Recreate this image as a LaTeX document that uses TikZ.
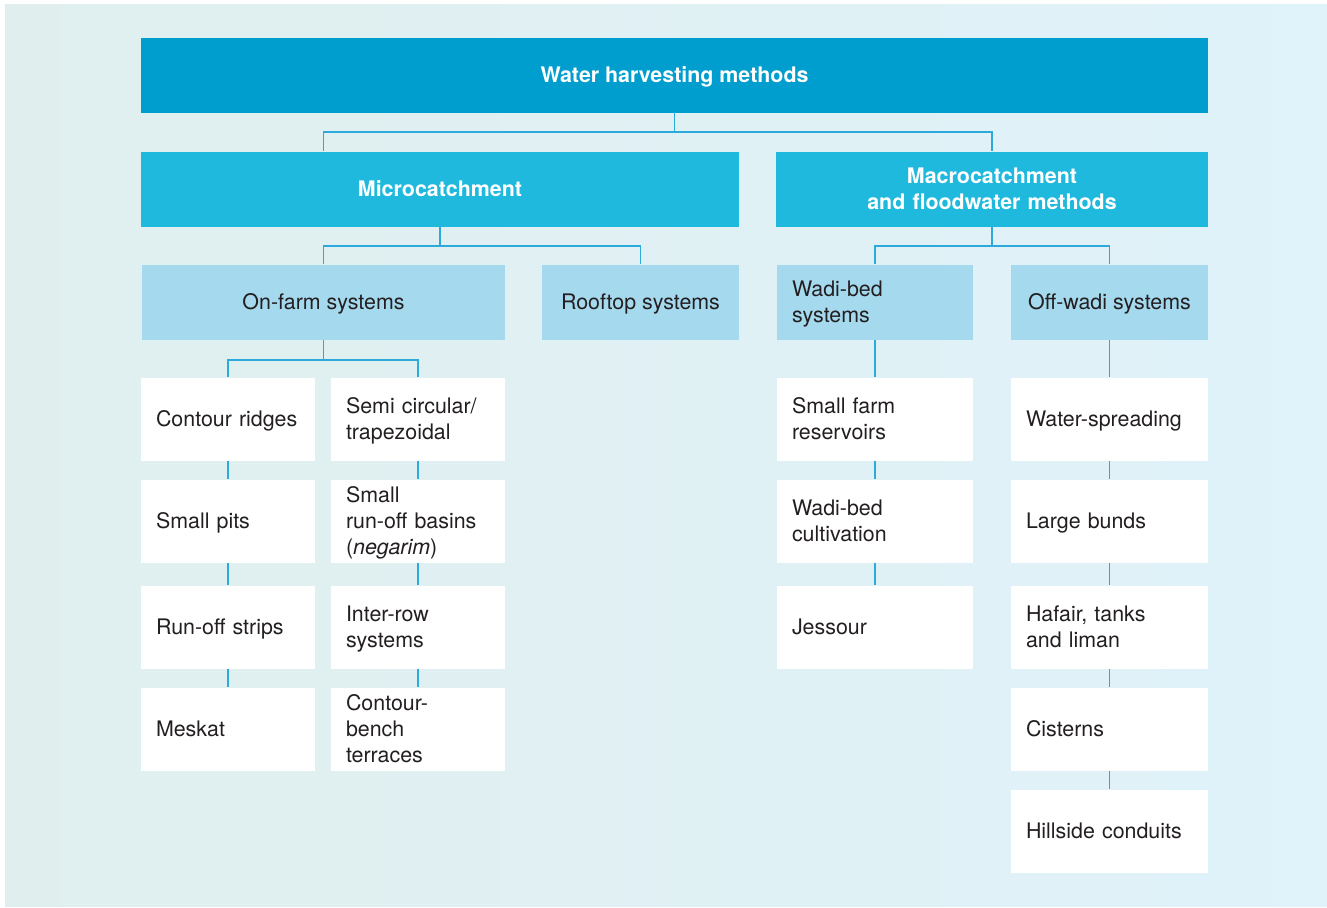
\documentclass[tikz,border=0pt]{standalone}
\usepackage{fontspec}
\setmainfont{TeX Gyre Heros}
\usepackage{tikz}
\definecolor{topblue}{RGB}{0,158,206}
\definecolor{midblue}{RGB}{31,185,222}
\definecolor{subblue}{RGB}{165,217,238}
\definecolor{linkblue}{RGB}{45,170,220}
\definecolor{bgleft}{RGB}{224,239,238}
\definecolor{bgright}{RGB}{224,242,250}
\definecolor{ink}{RGB}{35,31,32}

\begin{document}
\begin{tikzpicture}[x = 0.5pt, y = -0.5pt, font = \fontsize{10.7}{13}\selectfont,
  lines/.style = {text height = 7.7pt, text depth = #1},
  lines/.default = 0pt,
  head/.style = {fill = topblue, text = white, font = \fontsize{10.7}{13}\selectfont\bfseries, align = center, inner sep = 0pt, minimum height = 37.5pt, lines},
  group/.style = {fill = midblue, text = white, font = \fontsize{10.7}{13}\selectfont\bfseries, align = center, inner sep = 0pt, minimum height = 37.5pt, lines},
  sub/.style = {fill = subblue, text = ink, align = center, inner sep = 0pt, minimum height = 37.5pt, lines},
  leaf/.style = {fill = white, text = ink, align = left, inner xsep = 7.5pt, inner ysep = 0pt, minimum height = 41.5pt, text width = #1, lines},
  link/.style = {draw = linkblue, line width = 0.75pt}]
\useasboundingbox (0,0) rectangle (1327,907);
\fill[left color = bgleft, right color = bgright] (5,4) rectangle (1327,906);
\draw (674.5,75) node[head, minimum width = 533.5pt](w){Water harvesting methods}
    (440,189) node[group, minimum width = 299pt](m1){Microcatchment}
    (992,189) node[group, text width = 216pt, lines = 13pt](m2){Macrocatchment\\and floodwater methods}
    (323.5,302) node[sub, minimum width = 181.5pt](s1){On-farm systems}
    (640.5,302) node[sub, minimum width = 98.5pt](s2){Rooftop systems}
    (875,302) node[sub, align = left, inner xsep = 7.5pt, text width = 83pt, lines = 13pt](s3){Wadi-bed\\systems}
    (1109.5,302) node[sub, minimum width = 98.5pt](s4){Off-wadi systems};
\draw (228,419) node[leaf = 72pt](l1){Contour ridges}
    (228,521) node[leaf = 72pt](l2){Small pits}
    (228,627) node[leaf = 72pt](l3){Run-off strips}
    (228,729) node[leaf = 72pt](l4){Meskat}
    (418,419) node[leaf = 72pt, lines = 13pt](r1){Semi circular/\\trapezoidal}
    (418,521) node[leaf = 72pt, lines = 26pt](r2){Small\\run-off basins\\(\textit{negarim})}
    (418,627) node[leaf = 72pt, lines = 13pt](r3){Inter-row\\systems}
    (418,729) node[leaf = 72pt, lines = 26pt](r4){Contour-\\bench\\terraces};
\draw (875,419) node[leaf = 83pt, lines = 13pt](d1){Small farm\\reservoirs}
    (875,521) node[leaf = 83pt, lines = 13pt](d2){Wadi-bed\\cultivation}
    (875,627) node[leaf = 83pt](d3){Jessour}
    (1109.5,419) node[leaf = 83.5pt](o1){Water-spreading}
    (1109.5,521) node[leaf = 83.5pt](o2){Large bunds}
    (1109.5,627) node[leaf = 83.5pt, lines = 13pt](o3){Hafair, tanks\\and liman}
    (1109.5,729) node[leaf = 83.5pt](o4){Cisterns}
    (1109.5,831) node[leaf = 83.5pt](o5){Hillside conduits};
\draw [link] (w.south) -- ++(0,19) -| (m1.north -| s1.north);
\draw [link] (w.south) -- ++(0,19) -| (m2.north);
\draw [link] (m1.south) -- ++(0,19) -| (s1.north);
\draw [link] (m1.south) -- ++(0,19) -| (s2.north);
\draw [link] (m2.south) -- ++(0,19) -| (s3.north);
\draw [link] (m2.south) -- ++(0,19) -| (s4.north);
\draw [link] (s1.south) -- ++(0,20) -| (l1.north);
\draw [link] (s1.south) -- ++(0,20) -| (r1.north);
\draw [link] (s3.south) -- (d1.north);
\draw [link] (s4.south) -- (o1.north);
\draw [link] (l1.south) -- (l2.north);
\draw [link] (l2.south) -- (l3.north);
\draw [link] (l3.south) -- (l4.north);
\draw [link] (r1.south) -- (r2.north);
\draw [link] (r2.south) -- (r3.north);
\draw [link] (r3.south) -- (r4.north);
\draw [link] (d1.south) -- (d2.north);
\draw [link] (d2.south) -- (d3.north);
\draw [link] (o1.south) -- (o2.north);
\draw [link] (o2.south) -- (o3.north);
\draw [link] (o3.south) -- (o4.north);
\draw [link] (o4.south) -- (o5.north);
\end{tikzpicture}
\end{document}
